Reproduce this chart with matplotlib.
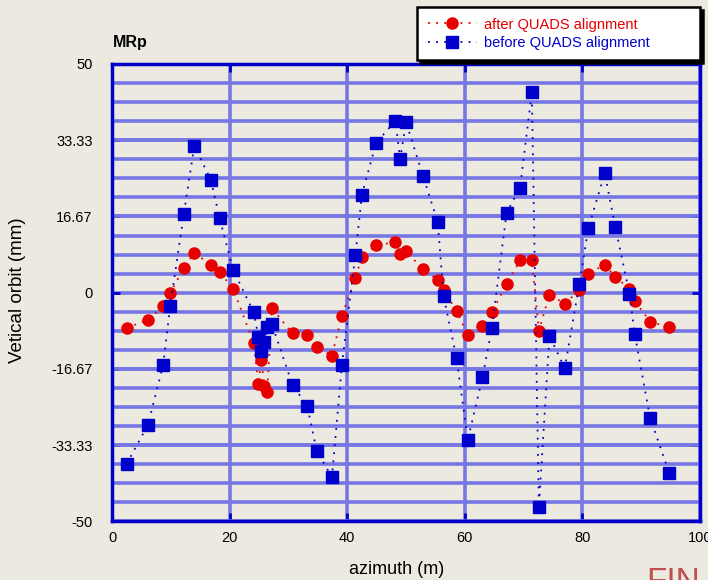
import matplotlib

matplotlib.use("Agg")
import matplotlib.pyplot as plt
import numpy as np

# BPM azimuth positions and measured vertical orbit (mm)
azimuth = [2.5, 6.1, 8.7, 9.9, 12.2, 14.0, 16.8, 18.3, 20.6, 24.1, 24.9, 25.4,
           25.9, 26.4, 27.2, 30.7, 33.2, 34.8, 37.4, 39.1, 41.4, 42.5, 44.9,
           48.2, 49.0, 50.0, 52.9, 55.4, 56.4, 58.6, 60.5, 63.0, 64.6, 67.1,
           69.4, 71.4, 72.6, 74.4, 77.0, 79.5, 81.0, 83.8, 85.6, 88.0, 88.9,
           91.5, 94.8]
after_align = [-7.7, -5.9, -3.0, -0.1, 5.4, 8.7, 6.1, 4.5, 0.9, -11.0, -19.9,
               -14.7, -20.4, -21.6, -3.4, -8.9, -9.2, -11.8, -13.8, -5.0, 3.2,
               7.9, 10.4, 11.0, 8.5, 9.1, 5.1, 2.8, 0.6, -4.0, -9.2, -7.3, -4.3,
               1.9, 7.1, 7.1, -8.3, -0.4, -2.4, 0.6, 4.2, 6.1, 3.5, 0.8, -1.8,
               -6.3, -7.6]
before_align = [-37.4, -28.9, -15.8, -2.9, 17.1, 32.1, 24.7, 16.3, 5.0, -4.3,
                -9.6, -12.7, -10.8, -7.4, -6.9, -20.2, -24.7, -34.5, -40.3,
                -15.8, 8.3, 21.4, 32.7, 37.6, 29.2, 37.3, 25.5, 15.4, -0.8,
                -14.3, -32.2, -18.5, -7.8, 17.4, 23.0, 43.8, -46.9, -9.4, -16.5,
                2.0, 14.1, 26.1, 14.4, -0.2, -9.0, -27.3, -39.5]

ytick_vals = [50, 33.33, 16.67, 0, -16.67, -33.33, -50]
ytick_labels = ["50", "33.33", "16.67", "0", "-16.67", "-33.33", "-50"]
xtick_vals = [0, 20, 40, 60, 80, 100]

BG = "#ECEAE0"
GRID = "#7676E4"
FRAME = "#0000C8"
RED = "#E60000"
BLUE = "#0000CC"

plt.rcParams["font.family"] = ["Liberation Sans", "DejaVu Sans"]

fig = plt.figure(figsize=(7.08, 5.80), dpi=100, facecolor=BG)
ax = fig.add_axes([0.1582, 0.1009, 0.8305, 0.7888], facecolor=BG)

dots = (0, (1, 3.5))
ax.plot(azimuth, after_align, color=RED, linestyle=dots, linewidth=1.3,
        marker="o", markersize=8, markeredgecolor=RED,
        label="after QUADS alignment", zorder=3)
ax.plot(azimuth, before_align, color=BLUE, linestyle=dots, linewidth=1.3,
        marker="s", markersize=8, markeredgecolor=BLUE,
        label="before QUADS alignment", zorder=4)

ax.set_xlim(0, 100)
ax.set_ylim(-50, 50)
ax.set_xticks(xtick_vals)
ax.set_yticks(ytick_vals)
ax.set_yticklabels(ytick_labels)
ax.set_yticks(np.arange(-50, 50.01, 100 / 24), minor=True)

ax.grid(which="both", axis="y", color=GRID, linewidth=2.6, zorder=1)
ax.grid(which="major", axis="x", color=GRID, linewidth=2.6, zorder=1)
ax.set_axisbelow(True)

ax.tick_params(which="major", direction="in", length=6, width=2,
               color=FRAME, top=True, right=True, labelsize=10.5)
ax.tick_params(axis="y", which="major", pad=14)
ax.tick_params(axis="x", which="major", pad=7)
ax.tick_params(which="minor", length=0)
for spine in ax.spines.values():
    spine.set_color(FRAME)
    spine.set_linewidth(2.5)

fig.text(113 / 708, 1 - 43 / 580, "MRp", fontsize=11.5, fontweight="bold",
         va="center", ha="left")
fig.text(18 / 708, 1 - 290 / 580, "Vetical orbit (mm)", rotation=90,
         fontsize=13.5, va="center", ha="center")
fig.text(397 / 708, 1 - 570 / 580, "azimuth (m)", fontsize=13,
         va="center", ha="center")
fig.text(646 / 708, 1 - 567 / 580, "FIN", fontsize=24, color="#C0504D",
         va="top", ha="left")

leg = fig.legend(loc="upper left",
                 bbox_to_anchor=(417 / 708, 1 - 60 / 580, 283 / 708, 53 / 580),
                 mode="expand", borderaxespad=0, fontsize=10.5,
                 handlelength=3.4, handletextpad=0.5, borderpad=0.72,
                 labelspacing=0.3, labelcolor="linecolor", fancybox=False,
                 framealpha=1, facecolor="white", edgecolor="black",
                 shadow={"color": "black", "alpha": 1.0})
leg.get_frame().set_linewidth(1.8)

fig.savefig("out.png", dpi=100, facecolor=BG)
